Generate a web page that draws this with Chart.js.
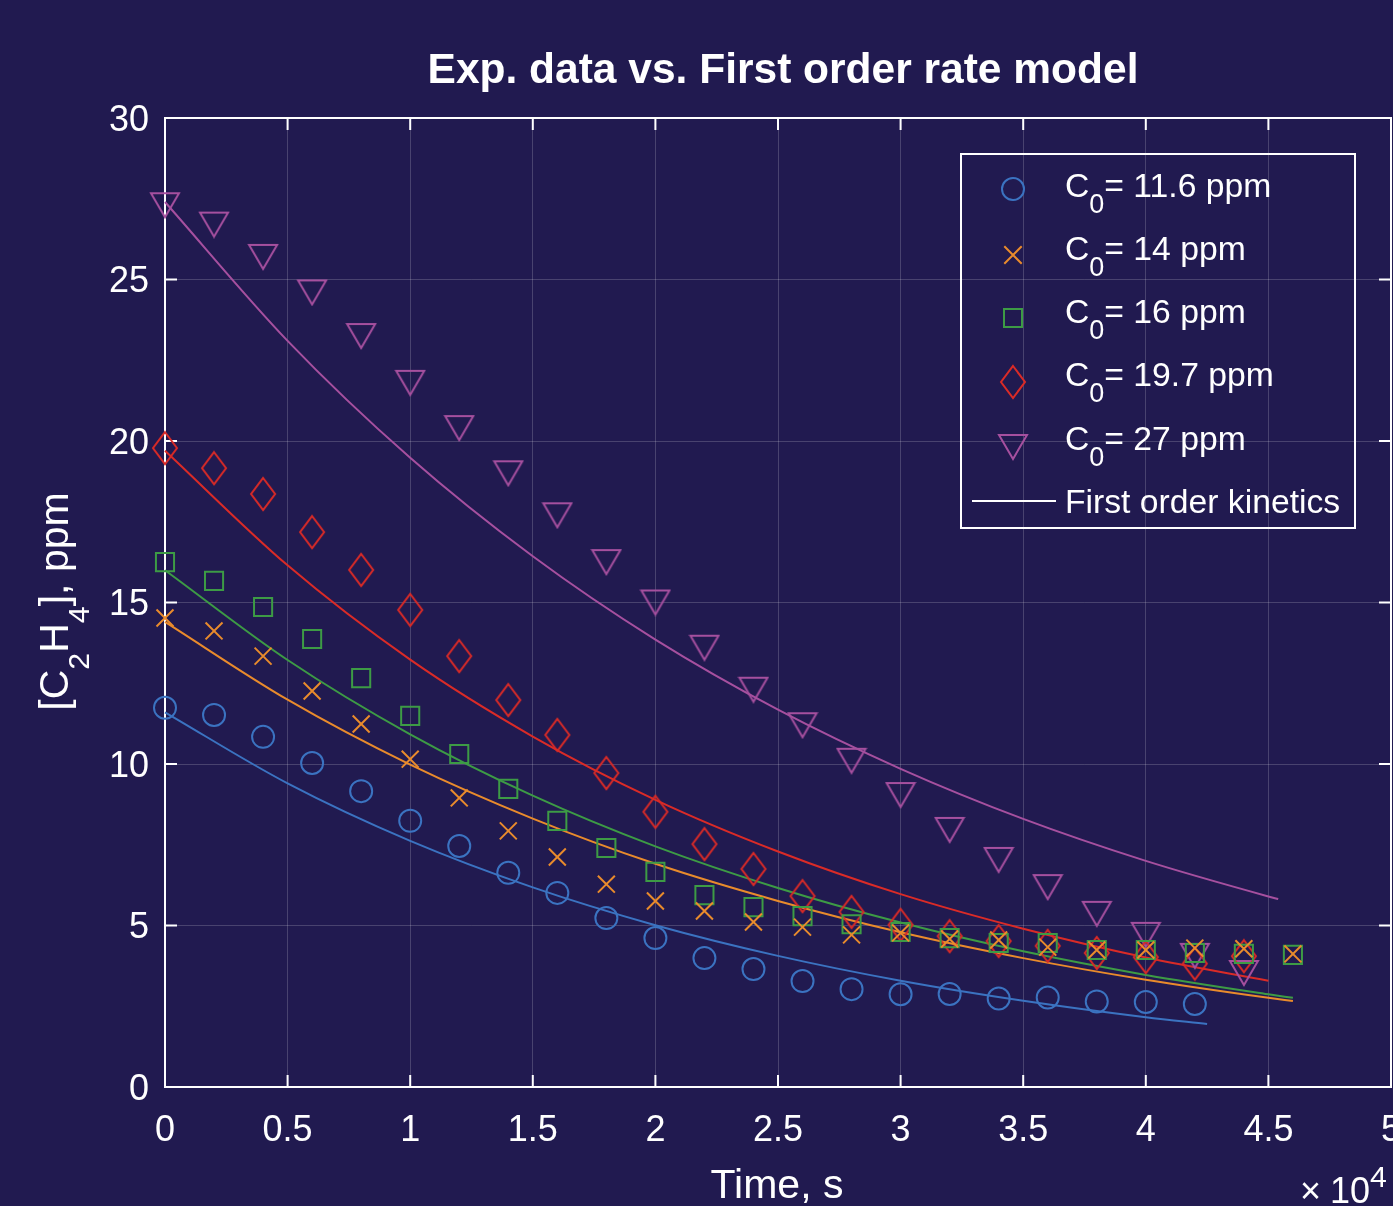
<!DOCTYPE html>
<html>
<head>
<meta charset="utf-8">
<script src="https://cdn.jsdelivr.net/npm/chart.js@4.4.1/dist/chart.umd.min.js"></script>
<style>
body { margin: 0; background: #211a50; overflow: hidden; }
#wrap { position: relative; width: 1393px; height: 1206px; font-family: "Liberation Sans", Arial, Helvetica, sans-serif; color: #fff; }
#chart { position: absolute; left: 0; top: 0; }
.t { position: absolute; white-space: nowrap; line-height: 1; }
.sub { font-size: 0.8em; position: relative; top: 0.6em; }
.ysub { font-size: 0.74em; position: relative; top: 0.68em; }
.sup { font-size: 0.84em; position: relative; top: -0.52em; }
#overlay { position: absolute; left: 0; top: 0; pointer-events: none; }
</style>
</head>
<body>
<div id="wrap">
  <canvas id="chart" width="1393" height="1206"></canvas>
  <svg id="overlay" width="1393" height="1206">
    <rect x="961" y="154" width="394" height="374" fill="none" stroke="#fff" stroke-width="2"/>
    <circle cx="1013" cy="189" r="11" fill="none" stroke="#3b73c1" stroke-width="2"/>
    <path d="M1004.3 246.3 L1021.7 263.7 M1004.3 263.7 L1021.7 246.3" stroke="#e98b2c" stroke-width="2"/>
    <rect x="1004" y="309" width="18" height="18" fill="none" stroke="#3d9b45" stroke-width="2"/>
    <polygon points="1013,366 1025,382 1013,398 1001,382" fill="none" stroke="#da2b27" stroke-width="2"/>
    <polygon points="999,435 1027,435 1013,459" fill="none" stroke="#a6509f" stroke-width="2"/>
    <line x1="972" y1="501" x2="1056" y2="501" stroke="#fff" stroke-width="2"/>
  </svg>
  <div class="t" style="left:783px;top:48.3px;transform:translateX(-50%);font-size:42.5px;font-weight:bold;">Exp. data vs. First order rate model</div>
  <div class="t" style="left:777px;top:1163.6px;transform:translateX(-50%);font-size:41px;">Time, s</div>
  <div class="t" style="left:-146px;top:581px;width:400px;height:41px;text-align:center;transform:rotate(-90deg);font-size:41px;">[C<span class="ysub">2</span>H<span class="ysub">4</span>], ppm</div>
  <div class="t" style="left:1300px;top:1173px;font-size:36px;"><span style="margin-right:9px">&times;</span>10<span class="sup">4</span></div>

  <div class="t" style="left:1065px;top:168.5px;font-size:33.7px;">C<span class="sub">0</span>= 11.6 ppm</div>
  <div class="t" style="left:1065px;top:232px;font-size:33.7px;">C<span class="sub">0</span>= 14 ppm</div>
  <div class="t" style="left:1065px;top:294.5px;font-size:33.7px;">C<span class="sub">0</span>= 16 ppm</div>
  <div class="t" style="left:1065px;top:358px;font-size:33.7px;">C<span class="sub">0</span>= 19.7 ppm</div>
  <div class="t" style="left:1065px;top:421.5px;font-size:33.7px;">C<span class="sub">0</span>= 27 ppm</div>
  <div class="t" style="left:1065px;top:484.5px;font-size:33.7px;">First order kinetics</div>
</div>
<script>
// measurement times, s
const times = [0, 2000, 4000, 6000, 8000, 10000, 12000, 14000, 16000, 18000, 20000, 22000,
               24000, 26000, 28000, 30000, 32000, 34000, 36000, 38000, 40000, 42000, 44000, 46000];

// measured concentrations, ppm
const exp116 = [11.74, 11.52, 10.84, 10.03, 9.16, 8.24, 7.46, 6.63, 6.01, 5.23, 4.61, 3.99,
                3.65, 3.28, 3.03, 2.87, 2.88, 2.74, 2.77, 2.65, 2.63, 2.57];
const exp14 = [14.52, 14.12, 13.34, 12.26, 11.24, 10.15, 8.95, 7.93, 7.12, 6.28, 5.76, 5.45,
               5.11, 4.95, 4.71, 4.77, 4.58, 4.55, 4.33, 4.24, 4.24, 4.30, 4.28, 4.12];
const exp16 = [16.25, 15.67, 14.86, 13.87, 12.66, 11.49, 10.31, 9.23, 8.24, 7.40, 6.66, 5.94,
               5.57, 5.29, 5.04, 4.80, 4.61, 4.46, 4.46, 4.24, 4.24, 4.15, 4.12, 4.09];
const exp197 = [19.78, 19.16, 18.36, 17.18, 16.01, 14.77, 13.34, 11.98, 10.90, 9.72, 8.52, 7.52,
                6.75, 5.91, 5.42, 5.02, 4.67, 4.52, 4.37, 4.15, 4.02, 3.82, 4.05];
const exp27 = [27.3, 26.7, 25.7, 24.6, 23.25, 21.8, 20.4, 19.0, 17.7, 16.25, 15.0, 13.6,
               12.3, 11.2, 10.1, 9.04, 7.96, 7.03, 6.19, 5.36, 4.71, 4.06, 3.53];

// first order kinetics curves
const fitT116 = [0, 5000, 10000, 15000, 20000, 25000, 30000, 35000, 40000, 42500];
const fit116 = [11.6, 9.40, 7.62, 6.18, 5.01, 4.06, 3.29, 2.67, 2.16, 1.95];
const fitT14 = [0, 5000, 10000, 15000, 20000, 25000, 30000, 35000, 40000, 45000, 46000];
const fit14 = [14.4, 11.99, 9.98, 8.31, 6.91, 5.76, 4.79, 3.99, 3.32, 2.76, 2.66];
const fitT16 = [0, 5000, 10000, 15000, 20000, 25000, 30000, 35000, 40000, 45000, 46000];
const fit16 = [16.0, 13.22, 10.92, 9.02, 7.45, 6.16, 5.09, 4.20, 3.47, 2.87, 2.76];
const fitT197 = [0, 5000, 10000, 15000, 20000, 25000, 30000, 35000, 40000, 45000];
const fit197 = [19.7, 16.15, 13.23, 10.85, 8.89, 7.29, 5.97, 4.90, 4.01, 3.29];
const fitT27 = [0, 5000, 10000, 15000, 20000, 25000, 30000, 35000, 40000, 45000, 45400];
const fit27 = [27.4, 23.10, 19.48, 16.43, 13.85, 11.68, 9.85, 8.30, 7.00, 5.90, 5.82];

const xTicks = [0, 5000, 10000, 15000, 20000, 25000, 30000, 35000, 40000, 45000, 50000];
const yTicks = [0, 5, 10, 15, 20, 25, 30];

const colors = {
    blue: '#3b73c1',
    orange: '#e98b2c',
    green: '#3d9b45',
    red: '#da2b27',
    purple: '#a6509f'
};
const fontFamily = '"Liberation Sans", Arial, Helvetica, sans-serif';

// marcadores propios (rombo alargado, triángulo invertido)
function makeMarker(w, h, pts, color) {
    const cv = document.createElement('canvas');
    cv.width = w;
    cv.height = h;
    const g = cv.getContext('2d');
    g.strokeStyle = color;
    g.lineWidth = 2;
    g.beginPath();
    pts.forEach(([x, y], i) => i ? g.lineTo(x, y) : g.moveTo(x, y));
    g.closePath();
    g.stroke();
    return cv;
}
const diamond = makeMarker(28, 36, [[14, 2], [26, 18], [14, 34], [2, 18]], colors.red);
const triangle = makeMarker(32, 28, [[2, 2], [30, 2], [16, 26]], colors.purple);

function toPoints(xs, ys) {
    return ys.map((y, i) => ({ x: xs[i], y: y }));
}

function markerSet(vals, color, style, radius) {
    return {
        data: toPoints(times, vals),
        showLine: false,
        pointStyle: style,
        pointRadius: radius,
        pointHoverRadius: radius,
        borderColor: color,
        pointBorderColor: color,
        pointBackgroundColor: 'transparent',
        pointBorderWidth: 2,
        clip: false
    };
}

function fitSet(ts, vals, color) {
    return {
        data: toPoints(ts, vals),
        showLine: true,
        pointRadius: 0,
        pointHoverRadius: 0,
        borderColor: color,
        borderWidth: 2,
        fill: false,
        cubicInterpolationMode: 'monotone',
        clip: false
    };
}

// marco de ejes y marcas hacia dentro
const framePlugin = {
    id: 'frame',
    beforeDatasetsDraw(chart) {
        const { ctx, chartArea: a, scales } = chart;
        const len = 12;
        ctx.save();
        ctx.strokeStyle = '#ffffff';
        ctx.lineWidth = 2;
        ctx.beginPath();
        xTicks.forEach(v => {
            const px = scales.x.getPixelForValue(v);
            ctx.moveTo(px, a.bottom);
            ctx.lineTo(px, a.bottom - len);
            ctx.moveTo(px, a.top);
            ctx.lineTo(px, a.top + len);
        });
        yTicks.forEach(v => {
            const py = scales.y.getPixelForValue(v);
            ctx.moveTo(a.left, py);
            ctx.lineTo(a.left + len, py);
            ctx.moveTo(a.right, py);
            ctx.lineTo(a.right - len, py);
        });
        ctx.stroke();
        ctx.strokeRect(a.left, a.top, a.right - a.left, a.bottom - a.top);
        ctx.restore();
    }
};

const gridStyle = { color: 'rgba(255,255,255,0.18)', lineWidth: 1, drawTicks: false };

new Chart(document.getElementById('chart'), {
    type: 'scatter',
    data: {
        datasets: [
            markerSet(exp116, colors.blue, 'circle', 11),
            markerSet(exp14, colors.orange, 'crossRot', 12),
            markerSet(exp16, colors.green, 'rect', 12.8),
            markerSet(exp197, colors.red, diamond, 12),
            markerSet(exp27, colors.purple, triangle, 12),
            fitSet(fitT116, fit116, colors.blue),
            fitSet(fitT14, fit14, colors.orange),
            fitSet(fitT16, fit16, colors.green),
            fitSet(fitT197, fit197, colors.red),
            fitSet(fitT27, fit27, colors.purple)
        ]
    },
    options: {
        responsive: false,
        animation: false,
        events: [],
        layout: { autoPadding: false, padding: { top: 118, right: 2, left: 0, bottom: 0 } },
        plugins: {
            legend: { display: false },
            tooltip: { enabled: false }
        },
        scales: {
            x: {
                type: 'linear',
                min: 0,
                max: 50000,
                afterFit(s) { s.height = 119; s.paddingLeft = 0; s.paddingRight = 0; },
                afterBuildTicks(s) { s.ticks = xTicks.map(v => ({ value: v })); },
                ticks: {
                    autoSkip: false,
                    maxRotation: 0,
                    color: '#ffffff',
                    padding: 22,
                    font: { family: fontFamily, size: 36 },
                    callback: v => String(v / 10000)
                },
                grid: gridStyle,
                border: { display: false }
            },
            y: {
                min: 0,
                max: 30,
                afterFit(s) { s.width = 165; s.paddingTop = 0; s.paddingBottom = 0; },
                afterBuildTicks(s) { s.ticks = yTicks.map(v => ({ value: v })); },
                ticks: {
                    color: '#ffffff',
                    padding: 16,
                    labelOffset: 3,
                    font: { family: fontFamily, size: 36 }
                },
                grid: gridStyle,
                border: { display: false }
            }
        }
    },
    plugins: [framePlugin]
});
</script>
</body>
</html>
